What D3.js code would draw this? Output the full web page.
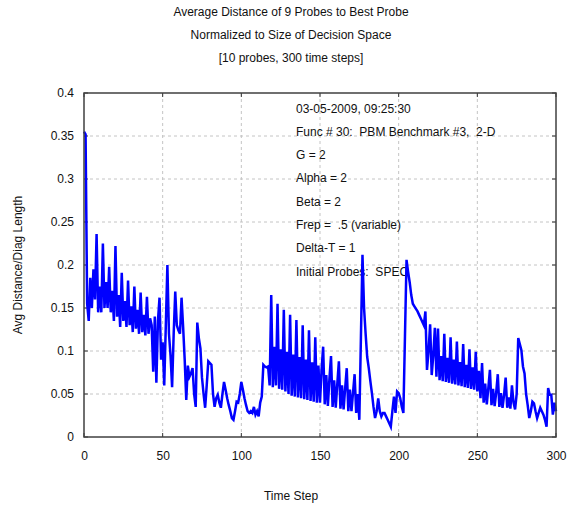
<!DOCTYPE html>
<html>
<head>
<meta charset="utf-8">
<script src="https://cdn.jsdelivr.net/npm/d3@7"></script>
<style>
  html, body { margin: 0; padding: 0; background: #fff; }
  svg text { font-family: "Liberation Sans", Arial, sans-serif; font-size: 12px; fill: #111; white-space: pre; }
</style>
</head>
<body>
<svg id="chart" width="571" height="508"></svg>
<script>
const titleLines = ["Average Distance of 9 Probes to Best Probe",
                    "Normalized to Size of Decision Space",
                    "[10 probes, 300 time steps]"];
const xLabel = "Time Step";
const yLabel = "Avg Distance/Diag Length";
const xTicks = [0, 50, 100, 150, 200, 250, 300];
const yTicks = [0, 0.05, 0.1, 0.15, 0.2, 0.25, 0.3, 0.35, 0.4];
const yTickLabels = ["0", "0.05", "0.1", "0.15", "0.2", "0.25", "0.3", "0.35", "0.4"];
const notes = ["03-05-2009, 09:25:30",
               "Func # 30:  PBM Benchmark #3,  2-D",
               "G = 2",
               "Alpha = 2",
               "Beta = 2",
               "Frep =  .5 (variable)",
               "Delta-T = 1",
               "Initial Probes:  SPEC"];

// Average distance per time step, t = 0..300
const avgDist = [
  0.355, 0.352, 0.155, 0.135, 0.185, 0.150, 0.195, 0.160, 0.236, 0.145,
  0.175, 0.145, 0.225, 0.150, 0.180, 0.150, 0.198, 0.145, 0.170, 0.135,
  0.222, 0.140, 0.165, 0.128, 0.191, 0.135, 0.158, 0.128, 0.182, 0.130,
  0.152, 0.122, 0.175, 0.126, 0.148, 0.120, 0.168, 0.122, 0.142, 0.118,
  0.163, 0.120, 0.138, 0.130, 0.076, 0.140, 0.063, 0.135, 0.162, 0.090,
  0.110, 0.060, 0.130, 0.200, 0.120, 0.095, 0.058, 0.120, 0.169, 0.130,
  0.124, 0.120, 0.162, 0.128, 0.090, 0.043, 0.083, 0.070, 0.074, 0.080,
  0.050, 0.035, 0.133, 0.115, 0.103, 0.069, 0.050, 0.034, 0.060, 0.088,
  0.086, 0.084, 0.050, 0.035, 0.045, 0.049, 0.040, 0.034, 0.050, 0.064,
  0.055, 0.045, 0.037, 0.030, 0.022, 0.020, 0.030, 0.041, 0.040, 0.050,
  0.064, 0.055, 0.045, 0.037, 0.030, 0.028, 0.030, 0.028, 0.035, 0.026,
  0.030, 0.024, 0.040, 0.047, 0.084, 0.082, 0.081, 0.082, 0.060, 0.165,
  0.058, 0.105, 0.060, 0.155, 0.056, 0.102, 0.055, 0.148, 0.053, 0.099,
  0.050, 0.142, 0.048, 0.096, 0.047, 0.136, 0.046, 0.093, 0.045, 0.130,
  0.044, 0.090, 0.043, 0.124, 0.042, 0.087, 0.041, 0.116, 0.040, 0.083,
  0.040, 0.078, 0.105, 0.038, 0.072, 0.036, 0.068, 0.094, 0.035, 0.066,
  0.034, 0.062, 0.088, 0.033, 0.060, 0.032, 0.057, 0.080, 0.030, 0.055,
  0.030, 0.052, 0.073, 0.028, 0.050, 0.020, 0.115, 0.212, 0.150, 0.120,
  0.093, 0.080, 0.065, 0.051, 0.035, 0.022, 0.030, 0.045, 0.030, 0.024,
  0.028, 0.028, 0.024, 0.020, 0.016, 0.012, 0.030, 0.047, 0.028, 0.053,
  0.051, 0.045, 0.035, 0.028, 0.117, 0.206, 0.192, 0.180, 0.165, 0.155,
  0.152, 0.149, 0.146, 0.142, 0.138, 0.134, 0.130, 0.146, 0.078, 0.100,
  0.131, 0.072, 0.095, 0.127, 0.070, 0.126, 0.066, 0.094, 0.065, 0.120,
  0.064, 0.092, 0.063, 0.116, 0.062, 0.090, 0.061, 0.111, 0.060, 0.087,
  0.059, 0.108, 0.058, 0.084, 0.057, 0.102, 0.056, 0.081, 0.055, 0.099,
  0.053, 0.077, 0.045, 0.086, 0.040, 0.062, 0.038, 0.057, 0.078, 0.037,
  0.056, 0.036, 0.052, 0.073, 0.035, 0.051, 0.034, 0.049, 0.069, 0.034,
  0.046, 0.033, 0.060, 0.040, 0.032, 0.050, 0.115, 0.108, 0.101, 0.082,
  0.074, 0.050, 0.037, 0.022, 0.030, 0.041, 0.039, 0.030, 0.022, 0.028,
  0.034, 0.030, 0.026, 0.020, 0.012, 0.057, 0.049, 0.049, 0.026, 0.040,
  0.030
];

const svg = d3.select("#chart");
const L = 84, R = 556, T = 93, B = 437;
const x = d3.scaleLinear().domain([0, 300]).range([L, R]);
const y = d3.scaleLinear().domain([0, 0.4]).range([B, T]);

// titles
svg.selectAll("text.title").data(titleLines).join("text")
  .attr("class", "title")
  .attr("x", 291).attr("y", (d, i) => 16 + i * 23)
  .attr("text-anchor", "middle").text(d => d);

// gridlines
const grid = svg.append("g");
grid.selectAll("line.gx").data(xTicks.slice(1, -1)).join("line")
  .attr("x1", d => x(d)).attr("x2", d => x(d)).attr("y1", T).attr("y2", B)
  .attr("stroke", "#c4c4c4").attr("stroke-dasharray", "3,3");
grid.selectAll("line.gy").data(yTicks.slice(1, -1)).join("line")
  .attr("x1", L).attr("x2", R).attr("y1", d => y(d)).attr("y2", d => y(d))
  .attr("stroke", "#c4c4c4").attr("stroke-dasharray", "3,3");

// axes
const xAxis = d3.axisBottom(x).tickValues(xTicks).tickSize(0).tickPadding(14).tickFormat(d3.format("d"));
const yAxis = d3.axisLeft(y).tickValues(yTicks).tickSize(0).tickPadding(10).tickFormat((d, i) => yTickLabels[i]);
const gx = svg.append("g").attr("transform", `translate(0,${B})`).call(xAxis);
const gy = svg.append("g").attr("transform", `translate(${L},0)`).call(yAxis);
[gx, gy].forEach(g => {
  g.select(".domain").remove();
  g.selectAll("text").attr("font-family", "Liberation Sans, Arial, sans-serif").attr("font-size", 12).attr("fill", "#111");
});

// inner ticks on all sides
const tk = svg.append("g").attr("stroke", "#333").attr("stroke-width", 1);
xTicks.forEach(v => {
  tk.append("line").attr("x1", x(v)).attr("x2", x(v)).attr("y1", B).attr("y2", B - 4);
  tk.append("line").attr("x1", x(v)).attr("x2", x(v)).attr("y1", T).attr("y2", T + 4);
});
yTicks.forEach(v => {
  tk.append("line").attr("x1", L).attr("x2", L + 4).attr("y1", y(v)).attr("y2", y(v));
  tk.append("line").attr("x1", R).attr("x2", R - 4).attr("y1", y(v)).attr("y2", y(v));
});

// notes
svg.selectAll("text.note").data(notes).join("text")
  .attr("class", "note")
  .attr("x", 296).attr("y", (d, i) => 112.5 + i * 23.3)
  .attr("xml:space", "preserve")
  .text(d => d);

// data line
const line = d3.line().x((d, i) => x(i)).y(d => y(d));
svg.append("path").datum(avgDist)
  .attr("d", line).attr("fill", "none")
  .attr("stroke", "#0000ff").attr("stroke-width", 2.5).attr("stroke-linejoin", "miter");

// frame
svg.append("rect").attr("x", L).attr("y", T).attr("width", R - L).attr("height", B - T)
  .attr("fill", "none").attr("stroke", "#404040").attr("stroke-width", 1.5);

// axis titles
svg.append("text").attr("x", 291).attr("y", 500).attr("text-anchor", "middle").text(xLabel);
svg.append("text").attr("transform", "translate(22,265) rotate(-90)")
  .attr("text-anchor", "middle").text(yLabel);
</script>
</body>
</html>
